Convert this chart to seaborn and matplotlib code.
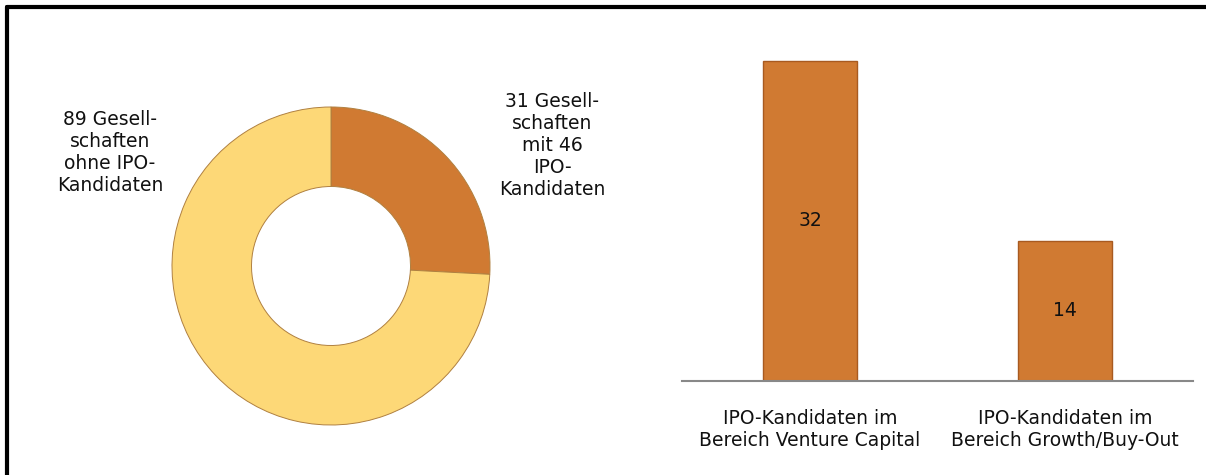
import numpy as np
import pandas as pd
import matplotlib
matplotlib.use("Agg")
import matplotlib.pyplot as plt
import seaborn as sns

# donut: companies with / without IPO candidates
donut_values = [31, 89]
donut_labels = ["31 Gesell-\nschaften\nmit 46\nIPO-\nKandidaten",
                "89 Gesell-\nschaften\nohne IPO-\nKandidaten"]

# bars: IPO candidates by segment
bar_categories = ["IPO-Kandidaten im\nBereich Venture Capital",
                  "IPO-Kandidaten im\nBereich Growth/Buy-Out"]
bar_values = [32, 14]

dark = "#D07A32"
light = "#FDD877"
fs = 13.5

sns.set_theme(style="white")
plt.rcParams['font.family'] = ['DejaVu Sans']
plt.rcParams['text.color'] = '#111111'
plt.rcParams['xtick.color'] = '#111111'

W, H = 1206, 475
fig = plt.figure(figsize=(W / 100, H / 100), dpi=100)
fig.patch.set_facecolor("white")

# frame: only top and left edges are visible
fig.add_artist(plt.Line2D([7 / W, 7 / W], [0, 1 - 7 / H], transform=fig.transFigure,
                          color="black", lw=3))
fig.add_artist(plt.Line2D([7 / W, 1], [1 - 7 / H, 1 - 7 / H], transform=fig.transFigure,
                          color="black", lw=3))

# donut
cx, cy, R = 331, 266, 159
ax1 = fig.add_axes([(cx - R) / W, (H - cy - R) / H, 2 * R / W, 2 * R / H])
ax1.pie(donut_values, colors=[dark, light], startangle=90, counterclock=False,
        radius=1.0, wedgeprops=dict(width=0.5, edgecolor="#B08040", linewidth=0.7))
ax1.set_xlim(-1.0, 1.0)
ax1.set_ylim(-1.0, 1.0)
ax1.set_aspect("equal")
ax1.axis("off")

fig.text(552 / W, 1 - 145 / H, donut_labels[0], ha="center", va="center",
         fontsize=fs, linespacing=1.2)
fig.text(110 / W, 1 - 152 / H, donut_labels[1], ha="center", va="center",
         fontsize=fs, linespacing=1.2)

# bars
ax2 = fig.add_axes([682.5 / W, (H - 381) / H, 510 / W, 340 / H])
df = pd.DataFrame({"Kategorie": bar_categories, "Anzahl": bar_values})
sns.barplot(data=df, x="Kategorie", y="Anzahl", ax=ax2, color=dark, saturation=1,
            width=0.37, edgecolor="#A85A20", linewidth=1)
ax2.set_ylim(0, 34)
ax2.set_xlim(-0.5, 1.5)
for p, v in zip(ax2.patches, bar_values):
    ax2.text(p.get_x() + p.get_width() / 2, v / 2, str(v), ha="center", va="center",
             fontsize=fs, color="#111111")
sns.despine(ax=ax2, left=True)
ax2.spines["bottom"].set_color("#888888")
ax2.spines["bottom"].set_linewidth(1.5)
ax2.set_yticks([])
ax2.set_xlabel("")
ax2.set_ylabel("")
ax2.tick_params(axis="x", length=0, pad=20, labelsize=fs)
for t in ax2.get_xticklabels():
    t.set_linespacing(1.2)

fig.savefig("out.png", dpi=100)
